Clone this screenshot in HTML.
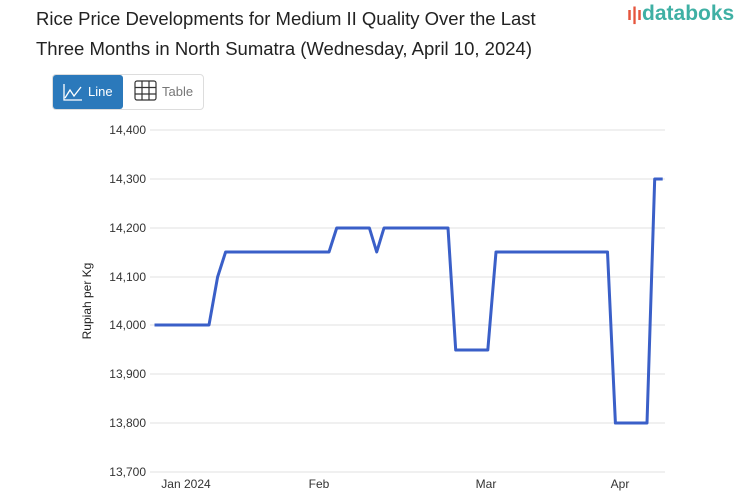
<!DOCTYPE html>
<html><head><meta charset="utf-8"><style>
body{margin:0;background:#fff;font-family:"Liberation Sans",sans-serif;}
.t{position:absolute;left:36px;top:4px;font-size:18.5px;line-height:30px;color:#222;}
</style></head><body>
<div style="position:relative;width:753px;height:498px;overflow:hidden">
<div class="t">Rice Price Developments for Medium II Quality Over the Last<br>Three Months in North Sumatra (Wednesday, April 10, 2024)</div>
<div style="position:absolute;left:627px;top:2px;font-size:21px;color:#3fb0a4;font-weight:bold;"><span style="color:#e5553d;font-size:18px">ı|ı</span>databoks</div>
<div style="position:absolute;left:52px;top:74px;width:150px;height:34px;border:1px solid #ddd;border-radius:4px;"></div>
<div style="position:absolute;left:53px;top:75px;width:70px;height:34px;background:#2b79bb;border-radius:3px;color:#fff;font-size:13px;">
<svg style="position:absolute;left:9px;top:7px" width="22" height="20"><path d="M2 2V18H20" stroke="#fff" fill="none" stroke-width="1.3"/><path d="M3 16L8 8L12 14L19 5" stroke="#fff" fill="none" stroke-width="1.3"/></svg>
<span style="position:absolute;left:35px;top:9px">Line</span></div>
<svg style="position:absolute;left:134px;top:80px" width="24" height="22"><g stroke="#333" fill="none" stroke-width="1.2"><rect x="1" y="1" width="21" height="19" rx="2"/><path d="M8 1V20M15 1V20M1 7.5H22M1 14H22"/></g></svg>
<span style="position:absolute;left:162px;top:84px;font-size:13px;color:#777">Table</span>
<svg style="position:absolute;left:0;top:0" width="753" height="498">
<g stroke="#e0e0e0" stroke-width="1">
<line x1="150" x2="665" y1="130" y2="130"/><line x1="150" x2="665" y1="179" y2="179"/><line x1="150" x2="665" y1="228" y2="228"/><line x1="150" x2="665" y1="277" y2="277"/><line x1="150" x2="665" y1="325" y2="325"/><line x1="150" x2="665" y1="374" y2="374"/><line x1="150" x2="665" y1="423" y2="423"/><line x1="150" x2="665" y1="472" y2="472"/></g>
<g font-size="12" fill="#333" text-anchor="end" font-family="Liberation Sans">
<text x="146" y="134">14,400</text><text x="146" y="183">14,300</text><text x="146" y="232">14,200</text><text x="146" y="281">14,100</text><text x="146" y="329">14,000</text><text x="146" y="378">13,900</text><text x="146" y="427">13,800</text><text x="146" y="476">13,700</text></g>
<g font-size="12" fill="#333" text-anchor="middle" font-family="Liberation Sans">
<text x="186" y="488">Jan 2024</text><text x="319" y="488">Feb</text><text x="486" y="488">Mar</text><text x="620" y="488">Apr</text></g>
<text transform="translate(91,301) rotate(-90)" font-size="12" fill="#222" text-anchor="middle" font-family="Liberation Sans">Rupiah per Kg</text>
<polyline fill="none" stroke="#3a5fc8" stroke-width="3" stroke-linejoin="round" points="154.5,325 209,325 217.6,277 225.6,252 329,252 336.7,228 369.4,228 376.7,252 384,228 448,228 455.7,350 487.8,350 496,252 607.5,252 615.4,423 647,423 654.7,179 662.7,179"/>
</svg>
</div></body></html>
